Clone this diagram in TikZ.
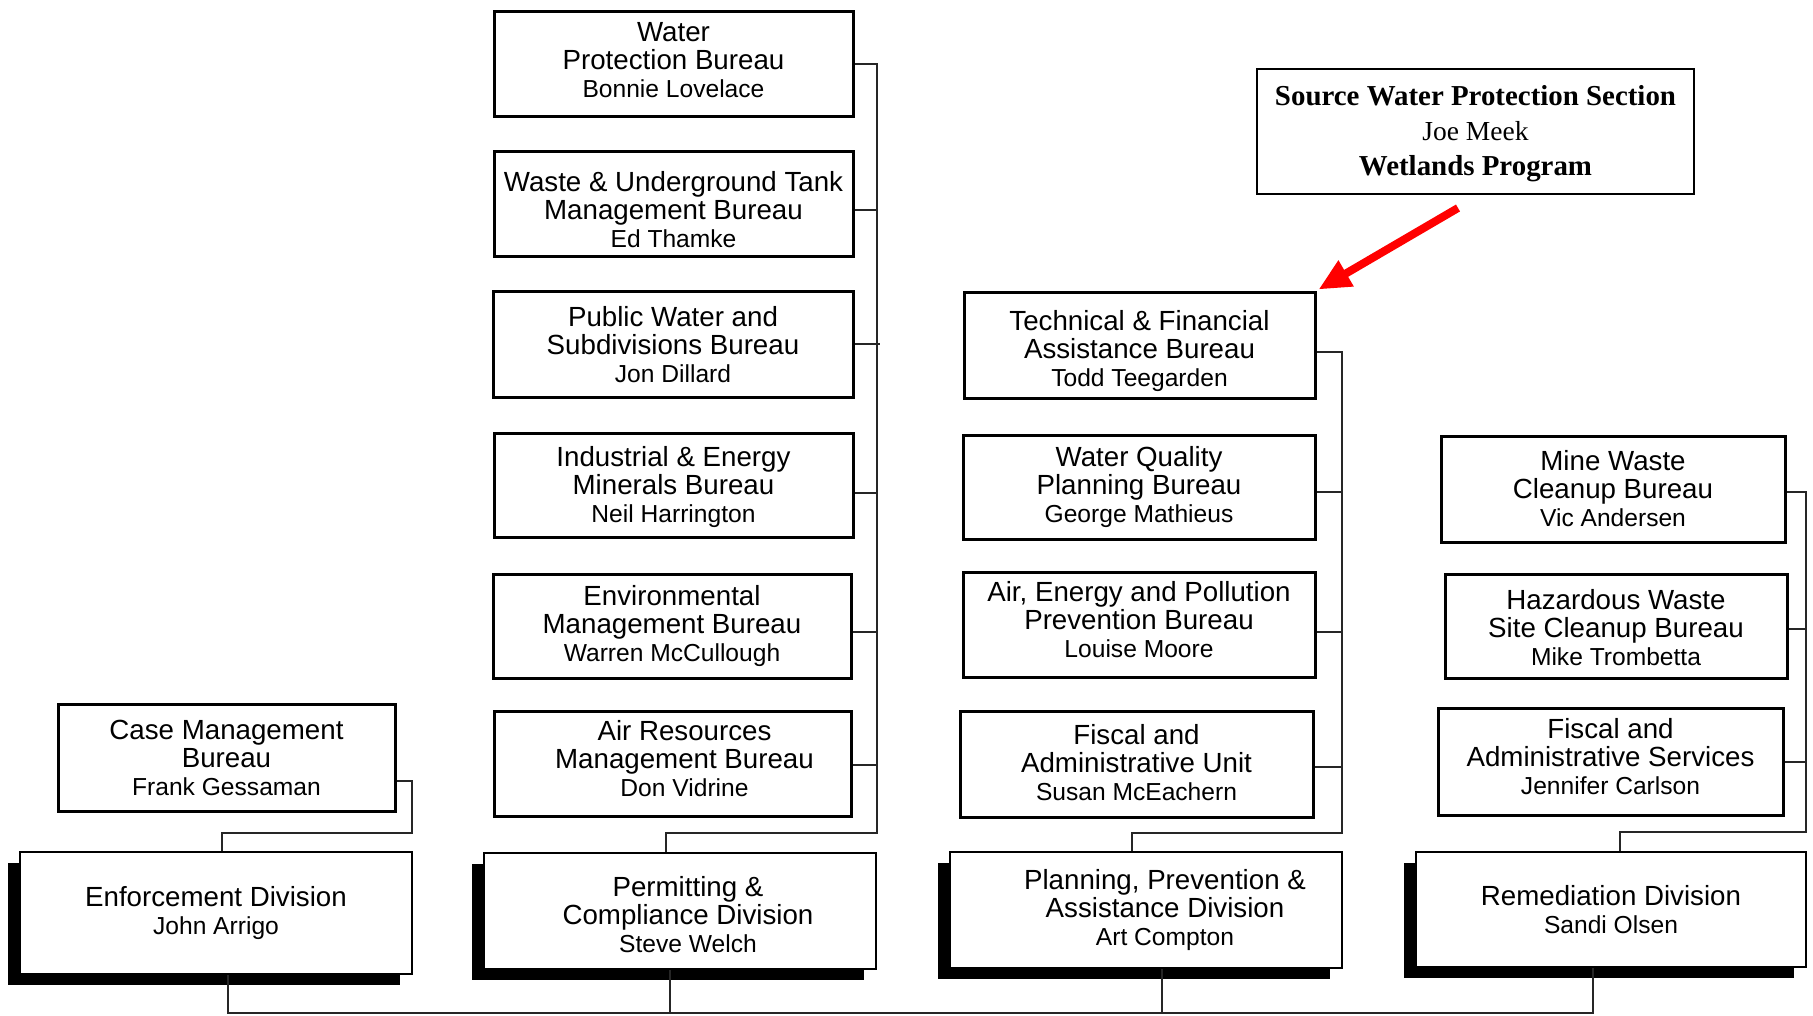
\documentclass[tikz,border=0pt]{standalone}
\usepackage{fontspec}
\setmainfont{Liberation Sans}
\newfontfamily\srcfont{Liberation Serif}
\usetikzlibrary{arrows.meta,shadows}
\newcommand\nm{\fontsize{24.6}{28}\selectfont}
\newcommand\up[1]{\rule[-#1pt]{0pt}{0pt}}
\newcommand\dn[1]{\rule{0pt}{#1pt}}
\tikzset{
  bureau/.style={draw=black, line width=3pt, fill=white, inner sep=0pt, align=center,
    font=\fontsize{27.7}{28}\selectfont},
  division/.style={draw=black, line width=1.5pt, fill=white, inner sep=0pt, align=center,
    font=\fontsize{27.7}{28}\selectfont,
    general shadow={fill=black, shadow xshift=-12pt, shadow yshift=-11pt}},
  conn/.style={draw=black!85, line width=2pt},
  redarrow/.style={draw=red, line width=8pt, -{Triangle[length=32pt,width=28pt]}},
  srcbox/.style={draw=black, line width=2pt, fill=white, inner sep=0pt, align=center,
    font=\srcfont\fontsize{28.9}{35}\selectfont}
}
\begin{document}
\begin{tikzpicture}[x=1pt,y=-1pt]
\useasboundingbox[fill=white] (0,0) rectangle (1813,1016);

% ---------- column 1 ----------
\node[bureau, minimum width=337pt, minimum height=107pt] (cm) at (226.5,757.5)
  {Case Management\\Bureau\\{\nm Frank Gessaman}};
\node[division, minimum width=392pt, minimum height=122pt] (ed) at (216,913)
  {Enforcement Division\\{\nm John Arrigo}};

% ---------- column 2 ----------
\node[bureau, minimum width=359pt, minimum height=105pt] (wp) at (673.5,64.5)
  {Water\\Protection Bureau\\{\nm Bonnie Lovelace}\up{10}};
\node[bureau, minimum width=359pt, minimum height=105pt] (ws) at (673.5,204.5)
  {\dn{30}Waste \& Underground Tank\\Management Bureau\\{\nm Ed Thamke}};
\node[bureau, minimum width=360pt, minimum height=105pt] (pw) at (673,344.5)
  {Public Water and\\Subdivisions Bureau\\{\nm Jon Dillard}};
\node[bureau, minimum width=359pt, minimum height=104pt] (ie) at (673.5,485)
  {\dn{24}Industrial \& Energy\\Minerals Bureau\\{\nm Neil Harrington}};
\node[bureau, minimum width=358pt, minimum height=104pt] (em) at (672,626)
  {Environmental\\Management Bureau\\{\nm Warren McCullough}};
\node[bureau, minimum width=357pt, minimum height=105pt] (ar) at (672.5,763.5)
  {\hspace*{24pt}Air Resources\\\hspace*{24pt}Management Bureau\\\hspace*{24pt}{\nm Don Vidrine}\up{10}};
\node[division, minimum width=392pt, minimum height=116pt] (pc) at (680,911)
  {\hspace*{16pt}\dn{27}Permitting \&\\\hspace*{16pt}Compliance Division\\\hspace*{16pt}{\nm Steve Welch}};

% ---------- column 3 ----------
\node[bureau, minimum width=351pt, minimum height=105pt] (tf) at (1139.5,345.5)
  {\dn{32}Technical \& Financial\\Assistance Bureau\\{\nm Todd Teegarden}};
\node[bureau, minimum width=352pt, minimum height=104pt] (wq) at (1139,487)
  {Water Quality\\Planning Bureau\\{\nm George Mathieus}};
\node[bureau, minimum width=352pt, minimum height=105pt] (ae) at (1139,624.5)
  {Air, Energy and Pollution\\Prevention Bureau\\{\nm Louise Moore}\up{10}};
\node[bureau, minimum width=353pt, minimum height=106pt] (fu) at (1136.5,764)
  {Fiscal and\\Administrative Unit\\{\nm Susan McEachern}\up{4}};
\node[division, minimum width=392pt, minimum height=116pt] (pp) at (1146,910)
  {\hspace*{38pt}Planning, Prevention \&\\\hspace*{38pt}Assistance Division\\\hspace*{38pt}{\nm Art Compton}};

% ---------- column 4 ----------
\node[bureau, minimum width=344pt, minimum height=106pt] (mw) at (1613,489)
  {Mine Waste\\Cleanup Bureau\\{\nm Vic Andersen}};
\node[bureau, minimum width=342pt, minimum height=104pt] (hw) at (1616,626)
  {\dn{24}Hazardous Waste\\Site Cleanup Bureau\\{\nm Mike Trombetta}};
\node[bureau, minimum width=345pt, minimum height=107pt] (fs) at (1610.5,761.5)
  {Fiscal and\\Administrative Services\\{\nm Jennifer Carlson}\up{10}};
\node[division, minimum width=390pt, minimum height=115pt] (rd) at (1611,909.5)
  {Remediation Division\\{\nm Sandi Olsen}};

% ---------- source water box ----------
\node[srcbox, minimum width=437pt, minimum height=125pt] (src) at (1475.5,131.5)
  {\dn{25}\textbf{Source Water Protection Section}\\{\fontsize{27.5}{35}\selectfont Joe Meek}\\\textbf{Wetlands Program}};

% ---------- connectors ----------
\coordinate (b1) at (412,833);
\draw[conn] ([yshift=-23.5pt]cm.east) -| (b1) -| ([xshift=6pt]ed.north);

\coordinate (b2) at (876.5,833);
\draw[conn] (wp.east) -| (b2) -| ([xshift=-14pt]pc.north);
\draw[conn] ([yshift=-5.5pt]ws.east) -- ([yshift=-5.5pt]ws.east -| b2);
\draw[conn] (pw.east) -- ([xshift=3pt]pw.east -| b2);
\draw[conn] ([yshift=-8pt]ie.east) -- ([yshift=-8pt]ie.east -| b2);
\draw[conn] ([yshift=-6pt]em.east) -- ([yshift=-6pt]em.east -| b2);
\draw[conn] ([yshift=-1.5pt]ar.east) -- ([yshift=-1.5pt]ar.east -| b2);

\coordinate (b3) at (1342,833);
\draw[conn] ([yshift=-6.5pt]tf.east) -| (b3) -| ([xshift=-14pt]pp.north);
\draw[conn] ([yshift=-5pt]wq.east) -- ([yshift=-5pt]wq.east -| b3);
\draw[conn] ([yshift=-7.5pt]ae.east) -- ([yshift=-7.5pt]ae.east -| b3);
\draw[conn] ([yshift=-3pt]fu.east) -- ([yshift=-3pt]fu.east -| b3);

\coordinate (b4) at (1806,832);
\draw[conn] ([yshift=-3pt]mw.east) -| (b4) -| ([xshift=9pt]rd.north);
\draw[conn] ([yshift=-3pt]hw.east) -- ([yshift=-3pt]hw.east -| b4);
\draw[conn] (fs.east) -- (fs.east -| b4);

\coordinate (bot) at (0,1013);
\coordinate (e1) at ([xshift=12pt]ed.south);
\coordinate (p1) at ([xshift=-10pt]pc.south);
\coordinate (q1) at ([xshift=16pt]pp.south);
\coordinate (r1) at ([xshift=-18pt]rd.south);
\draw[conn] (e1) |- (r1 |- bot) -- (r1);
\draw[conn] (p1) -- (p1 |- bot);
\draw[conn] (q1) -- (q1 |- bot);

% ---------- red arrow ----------
\draw[redarrow] ([shift={(-17.5,13)}]src.south) -- ([shift={(2,-2)}]tf.north east);
\end{tikzpicture}
\end{document}
